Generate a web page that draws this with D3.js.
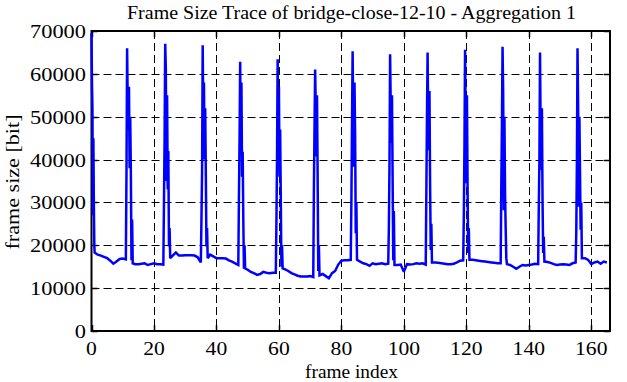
<!DOCTYPE html>
<html>
<head>
<meta charset="utf-8">
<script src="https://cdn.jsdelivr.net/npm/d3@7"></script>
<style>
  body { margin: 0; background: #fff; }
</style>
</head>
<body>
<div id="chart"></div>
<script>
// Frame Size Trace - frame index vs frame size (bit)

const titleText = "Frame Size Trace of bridge-close-12-10 - Aggregation 1";
const xLabelText = "frame index";
const yLabelText = "frame size [bit]";

const xTicks = [0, 20, 40, 60, 80, 100, 120, 140, 160];
const yTicks = [0, 10000, 20000, 30000, 40000, 50000, 60000, 70000];

const frameIndex = [
  0, 0.15, 0.3, 0.45, 0.6, 0.75, 0.9,
  1, 2, 3, 4, 5, 6, 7, 8, 9, 10,
  11, 11.2, 11.4, 11.6, 11.8, 12, 12.2, 12.4, 12.6, 12.8, 13, 13.2,
  14, 15, 16, 17, 18, 19, 20, 21, 22,
  23, 23.2, 23.4, 23.6, 23.8, 24, 24.2, 24.4, 24.6, 24.8, 25, 25.2,
  26, 27, 28, 29, 30, 31, 32, 33, 34,
  35, 35.2, 35.4, 35.6, 35.8, 36, 36.2, 36.4, 36.6, 36.8, 37, 37.2,
  38, 39, 40, 41, 42, 43, 44, 45, 46,
  47, 47.2, 47.4, 47.6, 47.8, 48, 48.2, 48.4, 48.6, 48.8, 49, 49.2,
  50, 51, 52, 53, 54, 55, 56, 57, 58,
  59, 59.2, 59.4, 59.6, 59.8, 60, 60.2, 60.4, 60.6, 60.8, 61, 61.2,
  62, 63, 64, 65, 66, 67, 68, 69, 70,
  71, 71.2, 71.4, 71.6, 71.8, 72, 72.2, 72.4, 72.6, 72.8, 73,
  74, 75, 76, 77, 78, 79, 80, 81, 82,
  83, 83.2, 83.4, 83.6, 83.8, 84, 84.2, 84.4, 84.6, 84.8, 85,
  86, 87, 88, 89, 90, 91, 92, 93, 94,
  95, 95.2, 95.4, 95.6, 95.8, 96, 96.2, 96.4, 96.6, 96.8, 97,
  98, 99, 100, 101, 102, 103, 104, 105, 106,
  107, 107.2, 107.4, 107.6, 107.8, 108, 108.2, 108.4, 108.6, 108.8, 109,
  110, 111, 112, 113, 114, 115, 116, 117, 118,
  119, 119.2, 119.4, 119.6, 119.8, 120, 120.2, 120.4, 120.6, 120.8, 121,
  122, 123, 124, 125, 126, 127, 128, 129, 130,
  131, 131.2, 131.4, 131.6, 131.8, 132, 132.2, 132.4, 132.6, 132.8, 133,
  134, 135, 136, 137, 138, 139, 140, 141, 142,
  143, 143.2, 143.4, 143.6, 143.8, 144, 144.2, 144.4, 144.6, 144.8, 145,
  146, 147, 148, 149, 150, 151, 152, 153, 154,
  155, 155.2, 155.4, 155.6, 155.8, 156, 156.2, 156.4, 156.6, 156.8, 157,
  158, 159, 160, 161, 162, 163, 164, 165
];

const frameSize = [
  69500, 58000, 52000, 27000, 45000, 30000, 20000,
  18300, 17800, 17600, 17300, 17000, 16400, 15700, 16200, 16800, 16900,
  16700, 37000, 66000, 53000, 47000, 57000, 38000, 50000, 37000, 16500, 26000, 15800,
  15600, 15600, 15700, 15800, 15400, 15600, 15800, 15600, 15600,
  15500, 30000, 45000, 67000, 61000, 35000, 55000, 33000, 42000, 19700, 24000, 17000,
  17600, 18300, 17600, 17600, 17700, 17700, 17700, 17600, 17200,
  16000, 26000, 37000, 66700, 48000, 58000, 40000, 52000, 37000, 19700, 24000, 17000,
  17800, 17400, 17000, 17000, 17000, 16900, 16500, 16200, 15800,
  15400, 31000, 45000, 62800, 42000, 58000, 36000, 41800, 26000, 14500, 20000, 14600,
  14300, 13800, 13500, 13100, 13300, 13800, 13600, 13500, 13600,
  13600, 25000, 40700, 63400, 39000, 57000, 36000, 47000, 31000, 15000, 20000, 14600,
  14400, 14000, 13500, 13200, 12900, 12700, 12700, 12700, 12800,
  12600, 33000, 47700, 61000, 52000, 40700, 55000, 36000, 14000, 20000, 13000,
  13300, 12800, 12300, 13500, 14000, 15500, 16400, 16500, 16500,
  16600, 30000, 48000, 65300, 50000, 38300, 58000, 45700, 22800, 30000, 16600,
  16200, 15800, 15600, 15200, 15800, 15600, 15700, 15800, 15600,
  15700, 24000, 38700, 64600, 52000, 43900, 55000, 36000, 16500, 28000, 15400,
  15400, 15500, 13800, 15600, 15500, 15600, 15800, 15700, 15800,
  15500, 32000, 50000, 65000, 48500, 42200, 56000, 34500, 18900, 25000, 16000,
  16000, 15900, 15800, 15700, 15600, 15600, 15700, 16000, 16400,
  16500, 26700, 42700, 65600, 48500, 34500, 55000, 33700, 18200, 24000, 16600,
  16600, 16500, 16400, 16300, 16200, 16100, 16000, 15900, 15800,
  15800, 33700, 48000, 66300, 55500, 28200, 50000, 32200, 24000, 17000, 15600,
  15400, 15000, 14500, 15000, 15400, 15300, 15400, 15500, 15700,
  15600, 29000, 39900, 65000, 45300, 37600, 52000, 30600, 18200, 22000, 16200,
  16100, 15900, 15600, 15400, 15500, 15600, 15500, 15400, 15800,
  16000, 22800, 39200, 66000, 52300, 29000, 50000, 36900, 23600, 30000, 17000,
  17000, 16600, 15600, 16000, 16200, 15700, 16200, 16000
];

const trace = frameIndex.map((f, i) => ({ frame: f, size: frameSize[i] }));

const width = 627;
const height = 382;
const plotLeft = 91.5, plotRight = 610, plotTop = 31, plotBottom = 331;
const tickLen = 6;
const serif = "'Liberation Serif', 'Times New Roman', serif";

const svg = d3.select("#chart")
  .append("svg")
  .attr("width", width)
  .attr("height", height)
  .style("background", "#fff");

const x = d3.scaleLinear().domain([0, 166]).range([plotLeft, plotRight]);
const y = d3.scaleLinear().domain([0, 70000]).range([plotBottom, plotTop]);

// dashed grid
const grid = svg.append("g")
  .attr("stroke", "#000")
  .attr("stroke-width", 1)
  .attr("stroke-dasharray", "8,4");

grid.selectAll("line.vx")
  .data(xTicks.filter(d => d > 0))
  .enter().append("line")
  .attr("x1", d => Math.round(x(d)) + 0.5)
  .attr("x2", d => Math.round(x(d)) + 0.5)
  .attr("y1", plotTop)
  .attr("y2", plotBottom);

grid.selectAll("line.hy")
  .data(yTicks.filter(d => d > 0 && d < 70000))
  .enter().append("line")
  .attr("x1", plotLeft)
  .attr("x2", plotRight)
  .attr("y1", d => Math.round(y(d)) + 0.5)
  .attr("y2", d => Math.round(y(d)) + 0.5);

// tick marks, mirrored on all four sides
const ticks = svg.append("g").attr("stroke", "#000").attr("stroke-width", 1.5);

xTicks.forEach(d => {
  const px = Math.round(x(d)) + 0.5;
  ticks.append("line").attr("x1", px).attr("x2", px).attr("y1", plotBottom).attr("y2", plotBottom - tickLen);
  ticks.append("line").attr("x1", px).attr("x2", px).attr("y1", plotTop).attr("y2", plotTop + tickLen);
});
yTicks.forEach(d => {
  const py = Math.round(y(d)) + 0.5;
  ticks.append("line").attr("x1", plotLeft).attr("x2", plotLeft + tickLen).attr("y1", py).attr("y2", py);
  ticks.append("line").attr("x1", plotRight).attr("x2", plotRight - tickLen).attr("y1", py).attr("y2", py);
});

// border
svg.append("rect")
  .attr("x", plotLeft)
  .attr("y", plotTop)
  .attr("width", plotRight - plotLeft)
  .attr("height", plotBottom - plotTop)
  .attr("fill", "none")
  .attr("stroke", "#000")
  .attr("stroke-width", 2);

// trace line
const line = d3.line()
  .x(d => x(d.frame))
  .y(d => y(d.size));

svg.append("path")
  .datum(trace)
  .attr("d", line)
  .attr("fill", "none")
  .attr("stroke", "#0000ff")
  .attr("stroke-width", 2.5)
  .attr("stroke-linejoin", "miter")
  .attr("stroke-miterlimit", 2);

// tick labels
svg.append("g").selectAll("text")
  .data(yTicks)
  .enter().append("text")
  .attr("x", 86)
  .attr("y", d => y(d) + 7)
  .attr("text-anchor", "end")
  .attr("font-family", serif)
  .attr("font-size", 18)
  .attr("textLength", d => String(d).length * 11.2)
  .attr("lengthAdjust", "spacingAndGlyphs")
  .text(d => d);

svg.append("g").selectAll("text")
  .data(xTicks)
  .enter().append("text")
  .attr("x", d => x(d))
  .attr("y", 355)
  .attr("text-anchor", "middle")
  .attr("font-family", serif)
  .attr("font-size", 18)
  .attr("textLength", d => String(d).length * 10.8)
  .attr("lengthAdjust", "spacingAndGlyphs")
  .text(d => d);

// title and axis labels
svg.append("text")
  .attr("x", 351.5)
  .attr("y", 19)
  .attr("text-anchor", "middle")
  .attr("font-family", serif)
  .attr("font-size", 18)
  .attr("textLength", 449)
  .attr("lengthAdjust", "spacingAndGlyphs")
  .text(titleText);

svg.append("text")
  .attr("x", 351.5)
  .attr("y", 378)
  .attr("text-anchor", "middle")
  .attr("font-family", serif)
  .attr("font-size", 18)
  .attr("textLength", 93)
  .attr("lengthAdjust", "spacingAndGlyphs")
  .text(xLabelText);

svg.append("text")
  .attr("transform", "translate(19,182) rotate(-90)")
  .attr("text-anchor", "middle")
  .attr("font-family", serif)
  .attr("font-size", 18)
  .attr("textLength", 135)
  .attr("lengthAdjust", "spacingAndGlyphs")
  .text(yLabelText);
</script>
</body>
</html>
